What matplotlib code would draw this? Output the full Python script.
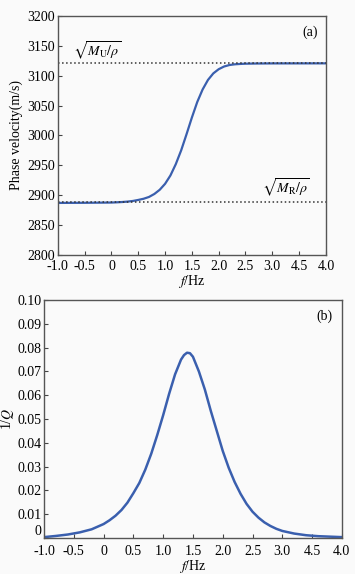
import matplotlib
matplotlib.use("Agg")
import matplotlib.pyplot as plt

plt.rcParams['font.family'] = ['Liberation Serif', 'DejaVu Serif']
plt.rcParams['mathtext.fontset'] = 'stix'
plt.rcParams['font.size'] = 10

# (a) phase velocity vs log frequency
xa = [-1.0, -0.5, 0.0, 0.1, 0.2, 0.3, 0.4, 0.5, 0.6, 0.7, 0.8, 0.9, 1.0, 1.1, 1.2,
      1.3, 1.4, 1.5, 1.6, 1.7, 1.8, 1.9, 2.0, 2.1, 2.2, 2.3, 2.4, 2.5, 2.7, 3.0, 4.0]
va = [2887, 2887.2, 2887.6, 2888, 2888.5, 2889.2, 2890.3, 2892, 2894, 2897, 2902,
      2909, 2919, 2933, 2952, 2975, 3002, 3030, 3056, 3077, 3093, 3104, 3111,
      3115.5, 3118, 3119.2, 3119.8, 3120.2, 3120.5, 3120.7, 3120.8]
v_unrelaxed = 3121
v_relaxed = 2888.5

# (b) attenuation 1/Q
xb = [-1.0, -0.8, -0.6, -0.4, -0.2, 0.0, 0.1, 0.2, 0.3, 0.4, 0.5, 0.6, 0.7, 0.8,
      0.9, 1.0, 1.1, 1.2, 1.3, 1.35, 1.4, 1.45, 1.5, 1.6, 1.7, 1.8, 1.9, 2.0, 2.1,
      2.2, 2.3, 2.4, 2.5, 2.6, 2.7, 2.8, 2.9, 3.0, 3.2, 3.4, 3.6, 3.8, 4.0]
qb = [0.0003, 0.0008, 0.0014, 0.0023, 0.0036, 0.0058, 0.0074, 0.0093, 0.0117,
      0.0148, 0.0188, 0.0231, 0.0287, 0.0354, 0.0432, 0.0516, 0.0606, 0.0688,
      0.0750, 0.0769, 0.0779, 0.0777, 0.0762, 0.0700, 0.0624, 0.0534, 0.0450,
      0.0366, 0.0295, 0.0235, 0.0185, 0.0143, 0.0110, 0.0085, 0.0065, 0.0050,
      0.0038, 0.0029, 0.0018, 0.0011, 0.0007, 0.0005, 0.0003]

xticks = [-1.0, -0.5, 0, 0.5, 1.0, 1.5, 2.0, 2.5, 3.0, 3.5, 4.0]
# the source figure labels the 3.5 tick as "4.5"
xticklabels = ['-1.0', '-0.5', '0', '0.5', '1.0', '1.5', '2.0', '2.5', '3.0', '4.5', '4.0']
yticks_a = [2800, 2850, 2900, 2950, 3000, 3050, 3100, 3150, 3200]
yticks_b = [0, 0.01, 0.02, 0.03, 0.04, 0.05, 0.06, 0.07, 0.08, 0.09, 0.10]
yticklabels_b = ['0', '0.01', '0.02', '0.03', '0.04', '0.05', '0.06', '0.07', '0.08', '0.09', '0.10']

blue = '#3a5fae'
bg = '#fafafa'

fig = plt.figure(figsize=(3.55, 5.74), dpi=100, facecolor=bg)
ax1 = fig.add_axes([0.163, 0.556, 0.755, 0.416], facecolor=bg)
ax2 = fig.add_axes([0.124, 0.063, 0.839, 0.414], facecolor=bg)

for ax in (ax1, ax2):
    for s in ax.spines.values():
        s.set_color('#555555')
        s.set_linewidth(1.0)
    ax.tick_params(direction='in', length=3, width=0.8, color='#444444')
    ax.tick_params(axis='y', pad=2)
    ax.set_xlim(-1, 4)
    ax.set_xticks(xticks)
    ax.set_xticklabels(xticklabels)
    ax.set_xlabel('$f$/Hz', labelpad=0)
ax1.tick_params(axis='x', pad=4)
ax2.tick_params(axis='x', pad=5)

ax1.plot(xa, va, color=blue, lw=1.6)
ax1.axhline(v_unrelaxed, color='#333333', ls=':', lw=1.1)
ax1.axhline(v_relaxed, color='#333333', ls=':', lw=1.1)
ax1.set_ylim(2800, 3200)
ax1.set_yticks(yticks_a)
ax1.set_ylabel('Phase velocity(m/s)', labelpad=3)
ax1.text(-0.72, 3132, r'$\sqrt{M_{\mathrm{U}}/\rho}$', fontsize=10)
ax1.text(2.8, 2903, r'$\sqrt{M_{\mathrm{R}}/\rho}$', fontsize=10)
ax1.text(0.97, 0.96, '(a)', transform=ax1.transAxes, ha='right', va='top')

ax2.plot(xb, qb, color=blue, lw=1.8)
ax2.set_ylim(0, 0.10)
ax2.set_yticks(yticks_b)
ax2.set_yticklabels(yticklabels_b)
# lift the "0" label a touch so it clears the "-1.0" x label
ax2.get_yticklabels()[0].set_va('bottom')
ax2.set_ylabel('1/$Q$', labelpad=1)
ax2.text(0.97, 0.96, '(b)', transform=ax2.transAxes, ha='right', va='top')

fig.savefig('out.png', dpi=100, facecolor=bg)
